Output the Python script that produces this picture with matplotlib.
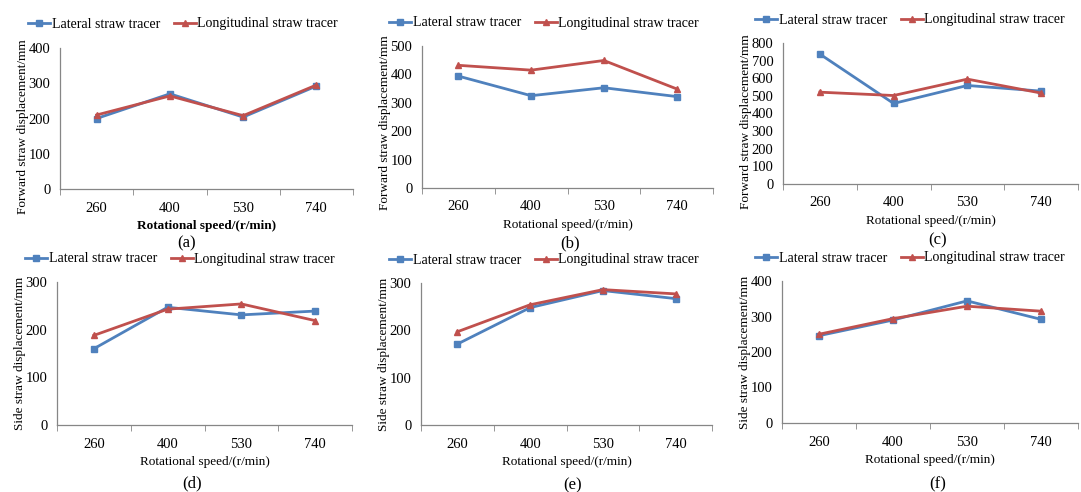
import numpy as np
import matplotlib
matplotlib.use("Agg")
import matplotlib.pyplot as plt

plt.rcParams['font.family'] = ['Liberation Serif', 'DejaVu Serif']

speeds = ["260", "400", "530", "740"]

# forward displacement (mm)
fwd_lat_a = [200, 270, 204, 292]
fwd_lon_a = [210, 264, 208, 295]
fwd_lat_b = [394, 325, 353, 322]
fwd_lon_b = [432, 415, 449, 349]
fwd_lat_c = [737, 457, 559, 527]
fwd_lon_c = [521, 502, 595, 516]

# side displacement (mm)
side_lat_d = [160, 247, 231, 239]
side_lon_d = [188, 243, 254, 219]
side_lat_e = [171, 248, 284, 267]
side_lon_e = [197, 254, 286, 277]
side_lat_f = [246, 290, 344, 292]
side_lon_f = [250, 294, 329, 315]

W, H = 1081, 492
BLUE = "#4F81BD"
RED = "#C0504D"
AXC = "#868686"

fig = plt.figure(figsize=(W / 100, H / 100), dpi=100)

panels = [
    # (lat, lon, ymax, ylabel, tag, box l r t b, legend cx cy, tag cx cy, bold xlabel, ylabel shift)
    (fwd_lat_a, fwd_lon_a, 400, "Forward straw displacement/mm", "(a)", (60, 353, 48, 189), (183, 24), (187, 243), True, 8),
    (fwd_lat_b, fwd_lon_b, 500, "Forward straw displacement/mm", "(b)", (422, 713, 46, 188), (544, 23), (570, 243), False, 6),
    (fwd_lat_c, fwd_lon_c, 800, "Forward straw displacement/mm", "(c)", (783, 1078, 43, 184), (910, 20), (938, 240), False, 8),
    (side_lat_d, side_lon_d, 300, "Side straw displacement/mm", "(d)", (57, 352, 282, 425), (180, 259), (192, 483), False, 0),
    (side_lat_e, side_lon_e, 300, "Side straw displacement/mm", "(e)", (421, 712, 283, 425), (544, 260), (573, 485), False, 0),
    (side_lat_f, side_lon_f, 400, "Side straw displacement/mm", "(f)", (782, 1078, 281, 423), (910, 258), (938, 484), False, 0),
]

x = np.arange(len(speeds))

for lat, lon, ymax, ylab, tag, box, leg, tagpos, bold, shift in panels:
    l, r, t, b = box
    ax = fig.add_axes([l / W, 1 - b / H, (r - l) / W, (b - t) / H])
    ax.plot(x, lat, color=BLUE, lw=2, marker="s", ms=4.5, label="Lateral straw tracer")
    ax.plot(x, lon, color=RED, lw=2, marker="^", ms=4.5, label="Longitudinal straw tracer")
    ax.set_xlim(-0.5, 3.5)
    ax.set_ylim(0, ymax)
    ax.set_yticks(np.arange(0, ymax + 1, 100))
    ax.set_xticks(x)
    ax.set_xticklabels(speeds)
    ax.set_xticks(np.arange(-0.5, 4, 1), minor=True)
    ax.tick_params(axis="x", which="major", length=0, labelsize=10.5, pad=9)
    ax.tick_params(axis="x", which="minor", length=4, color=AXC, direction="out")
    ax.tick_params(axis="y", length=0, labelsize=10.5, pad=7)
    for s in ["top", "right"]:
        ax.spines[s].set_visible(False)
    for s in ["left", "bottom"]:
        ax.spines[s].set_color(AXC)
        ax.spines[s].set_linewidth(0.9)
    ax.set_ylabel(ylab, fontsize=9.5)
    ax.yaxis.set_label_coords(-31 / (r - l), 0.5 - shift / (b - t))
    ax.set_xlabel("Rotational speed/(r/min)", fontsize=9.5,
                  fontweight="bold" if bold else "normal", labelpad=4)
    ax.legend(loc="center", bbox_to_anchor=(leg[0] / W, 1 - leg[1] / H),
              bbox_transform=fig.transFigure, ncol=2, frameon=False,
              fontsize=10, handlelength=1.6, handletextpad=0.1,
              columnspacing=1.0, borderpad=0, markerscale=0.9)
    fig.text(tagpos[0] / W, 1 - tagpos[1] / H, tag, ha="center", va="center", fontsize=12)

fig.savefig("out.png", dpi=100)
